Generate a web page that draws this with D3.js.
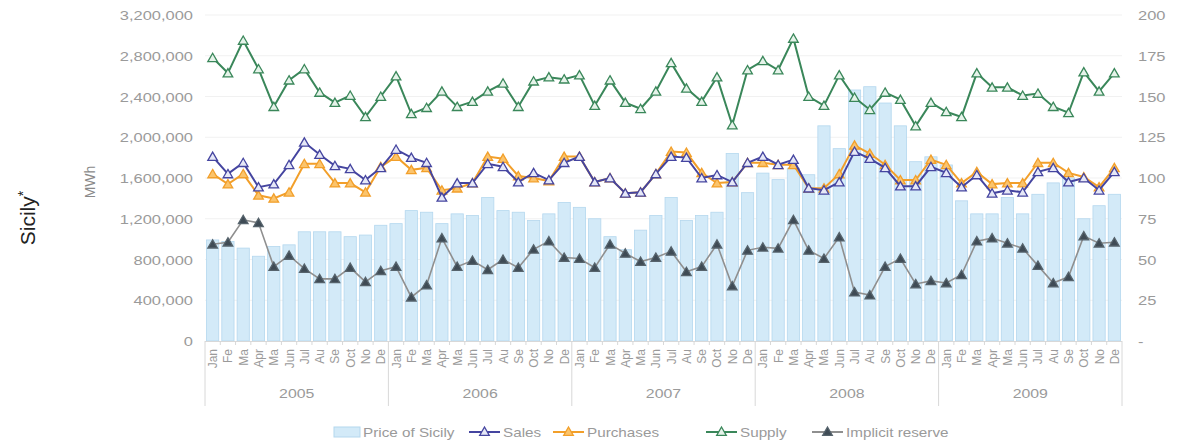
<!DOCTYPE html>
<html><head><meta charset="utf-8">
<script src="https://cdn.jsdelivr.net/npm/d3@7"></script>
<style>
body{margin:0;background:#fff}
svg{display:block}
text{font-family:"Liberation Sans",Arial,sans-serif}
</style>
</head><body>
<svg id="c" width="1183" height="445"></svg>
<script>
// ---------------- DATA ----------------
const years = ["2005","2006","2007","2008","2009"];
const monthLabels = ["Jan","Fe","Ma","Apr","Ma","Jun","Jul","Au","Se","Oct","No","De"];
// Price of Sicily (EUR/MWh, right axis)
const price = [
  62,61,57,52,58,59,67,67,67,64,65,71,
  72,80,79,72,78,77,88,80,79,74,78,85,
  82,75,64,56,68,77,88,74,77,79,115,91,
  103,99,106,102,132,118,154,156,146,132,110,113,
  108,86,78,78,88,78,90,97,100,75,83,90
];
// Sales (MWh)
const sales = [
  1810000,1640000,1750000,1510000,1540000,1730000,1950000,1830000,1720000,1690000,1580000,1700000,
  1880000,1800000,1750000,1410000,1550000,1550000,1740000,1710000,1560000,1650000,1580000,1750000,
  1810000,1560000,1600000,1450000,1460000,1640000,1810000,1800000,1600000,1630000,1560000,1750000,
  1810000,1730000,1780000,1500000,1480000,1560000,1860000,1790000,1700000,1520000,1520000,1710000,
  1650000,1510000,1630000,1450000,1480000,1460000,1660000,1700000,1560000,1600000,1480000,1660000
];
// Purchases (MWh)
const purchases = [
  1640000,1540000,1640000,1430000,1400000,1460000,1740000,1740000,1550000,1550000,1460000,1710000,
  1810000,1680000,1700000,1480000,1500000,1550000,1810000,1790000,1620000,1600000,1570000,1810000,
  1810000,1560000,1600000,1450000,1460000,1640000,1860000,1850000,1650000,1550000,1560000,1750000,
  1750000,1730000,1730000,1500000,1500000,1640000,1920000,1840000,1730000,1580000,1580000,1780000,
  1730000,1550000,1660000,1540000,1550000,1550000,1750000,1750000,1650000,1610000,1510000,1700000
];
// Supply (MWh)
const supply = [
  2780000,2630000,2950000,2670000,2300000,2560000,2670000,2440000,2340000,2410000,2200000,2400000,
  2600000,2230000,2290000,2450000,2300000,2350000,2450000,2530000,2300000,2550000,2590000,2570000,
  2610000,2310000,2560000,2340000,2280000,2450000,2730000,2480000,2350000,2590000,2120000,2660000,
  2750000,2660000,2970000,2400000,2310000,2610000,2390000,2270000,2440000,2370000,2110000,2340000,
  2250000,2200000,2630000,2490000,2490000,2410000,2430000,2300000,2240000,2640000,2450000,2630000
];
// Implicit reserve (MWh)
const reserve = [
  950000,970000,1190000,1160000,730000,840000,710000,610000,610000,720000,580000,690000,
  730000,430000,550000,1010000,730000,790000,700000,800000,720000,900000,980000,820000,
  810000,720000,950000,860000,780000,820000,880000,680000,730000,950000,540000,890000,
  920000,910000,1190000,890000,810000,1020000,480000,450000,730000,810000,560000,590000,
  570000,650000,980000,1010000,960000,910000,740000,570000,630000,1030000,960000,970000
];
const leftTicks = [0,400000,800000,1200000,1600000,2000000,2400000,2800000,3200000];
const rightTicks = [0,25,50,75,100,125,150,175,200];
const legendLabels = ["Price of Sicily","Sales","Purchases","Supply","Implicit reserve"];

// ---------------- LAYOUT ----------------
const svg = d3.select("#c");
const L = 205, R = 1122, T = 15, B = 341;
const months = d3.range(years.length * 12);
const x = d3.scaleBand().domain(months).range([L, R]).paddingInner(0.2).paddingOuter(0.1);
const yL = d3.scaleLinear().domain([0, 3200000]).range([B, T]);
const yR = d3.scaleLinear().domain([0, 200]).range([B, T]);
const cx = i => x(i) + x.bandwidth() / 2;
const SX = 1.22; // horizontal text stretch seen in the reference

// gridlines
svg.append("g").selectAll("line").data(leftTicks.slice(1)).join("line")
  .attr("x1", L).attr("x2", R).attr("y1", d => yL(d)).attr("y2", d => yL(d))
  .attr("stroke", "#f1f1f1").attr("stroke-width", 1);

// bars
svg.append("g").selectAll("rect").data(price).join("rect")
  .attr("x", (d, i) => x(i)).attr("width", x.bandwidth())
  .attr("y", d => yR(d)).attr("height", d => yR(0) - yR(d))
  .attr("fill", "#d3eaf8").attr("stroke", "#b4d7ee").attr("stroke-width", 0.8);

// baseline + month ticks
svg.append("line").attr("x1", L).attr("x2", R).attr("y1", B + 0.5).attr("y2", B + 0.5)
  .attr("stroke", "#d8d8d8");
svg.append("g").selectAll("line").data(d3.range(months.length + 1)).join("line")
  .attr("x1", i => L + i * x.step()).attr("x2", i => L + i * x.step())
  .attr("y1", B).attr("y2", i => (i % 12 === 0) ? 406 : B + 4)
  .attr("stroke", "#d8d8d8").attr("stroke-width", 1);

// month labels
svg.append("g").selectAll("text").data(months).join("text")
  .attr("transform", i => `translate(${cx(i) + 4.5},349) rotate(-90)`)
  .attr("text-anchor", "end").attr("font-size", 12).attr("fill", "#9a9a9a")
  .text(i => monthLabels[i % 12]);

// year labels
svg.append("g").selectAll("text").data(years).join("text")
  .attr("transform", (d, k) => `translate(${L + (k * 12 + 6) * x.step()},398) scale(${SX},1)`)
  .attr("text-anchor", "middle").attr("font-size", 13).attr("fill", "#9a9a9a")
  .text(d => d);

// left axis
const ga = svg.append("g").attr("transform", `translate(${L},0)`)
  .call(d3.axisLeft(yL).tickValues(leftTicks).tickSize(0).tickFormat(d3.format(",")));
ga.select(".domain").remove();
ga.selectAll("text").attr("x", -12 / SX).attr("dy", "0.35em")
  .attr("transform", `scale(${SX},1)`).attr("font-size", 13.5).attr("fill", "#9a9a9a")
  .attr("font-family", "'Liberation Sans',Arial,sans-serif");

// right axis
const gr = svg.append("g").attr("transform", `translate(${R},0)`)
  .call(d3.axisRight(yR).tickValues(rightTicks).tickSize(0).tickFormat(d => d === 0 ? "-" : d));
gr.select(".domain").remove();
gr.selectAll("text").attr("x", 16 / SX).attr("dy", "0.35em")
  .attr("transform", `scale(${SX},1)`).attr("font-size", 13.5).attr("fill", "#9a9a9a")
  .attr("font-family", "'Liberation Sans',Arial,sans-serif");

// titles
svg.append("text").attr("transform", "translate(35,218) rotate(-90)")
  .attr("text-anchor", "middle").attr("font-size", 21).attr("fill", "#222")
  .text("Sicily").append("tspan").attr("font-size", 14).attr("dy", -7).text("*");
svg.append("text").attr("transform", "translate(95,182) rotate(-90)")
  .attr("text-anchor", "middle").attr("font-size", 14).attr("fill", "#8a8a8a").text("MWh");

// series
const tri = "M0,-4.5L4.8,3.8L-4.8,3.8Z";
const series = [
  {data: reserve,   line: "#8f8f8f", lw: 1.6, mfill: "#3f4b55", mstroke: "#56636c"},
  {data: supply,    line: "#3a875a", lw: 2,   mfill: "#e6f3ea", mstroke: "#3a875a"},
  {data: purchases, line: "#f29f2a", lw: 2,   mfill: "#fbc46c", mstroke: "#f29f2a"},
  {data: sales,     line: "#4545a0", lw: 2,   mfill: "#e6e8f7", mstroke: "#4545a0"}
];
const lineGen = d3.line().x((d, i) => cx(i)).y(d => yL(d));
series.forEach(s => {
  svg.append("path").datum(s.data).attr("d", lineGen)
    .attr("fill", "none").attr("stroke", s.line).attr("stroke-width", s.lw);
  svg.append("g").selectAll("path").data(s.data).join("path")
    .attr("d", tri).attr("transform", (d, i) => `translate(${cx(i)},${yL(d)})`)
    .attr("fill", s.mfill).attr("stroke", s.mstroke).attr("stroke-width", 1.3);
});

// legend
const lg = svg.append("g");
const ly = 432;
const legendStyle = [
  {type: "bar", x: 334, tx: 363},
  {type: "line", x: 469, tx: 503, line: "#4545a0", mfill: "#e6e8f7", mstroke: "#4545a0"},
  {type: "line", x: 553, tx: 587, line: "#f29f2a", mfill: "#fbc46c", mstroke: "#f29f2a"},
  {type: "line", x: 706, tx: 740, line: "#3a875a", mfill: "#e6f3ea", mstroke: "#3a875a"},
  {type: "line", x: 812, tx: 846, line: "#8f8f8f", mfill: "#3f4b55", mstroke: "#56636c"}
];
legendLabels.forEach((lab, k) => {
  const st = legendStyle[k];
  if (st.type === "bar") {
    lg.append("rect").attr("x", st.x).attr("y", ly - 5).attr("width", 26).attr("height", 10)
      .attr("fill", "#d3eaf8").attr("stroke", "#b4d7ee");
  } else {
    lg.append("line").attr("x1", st.x).attr("x2", st.x + 31).attr("y1", ly).attr("y2", ly)
      .attr("stroke", st.line).attr("stroke-width", 2);
    lg.append("path").attr("d", tri).attr("transform", `translate(${st.x + 15.5},${ly - 0.5})`)
      .attr("fill", st.mfill).attr("stroke", st.mstroke).attr("stroke-width", 1.3);
  }
  lg.append("text").attr("transform", `translate(${st.tx},${ly + 4.5}) scale(${SX},1)`)
    .attr("font-size", 12.5).attr("fill", "#9a9a9a").text(lab);
});
</script>
</body></html>
